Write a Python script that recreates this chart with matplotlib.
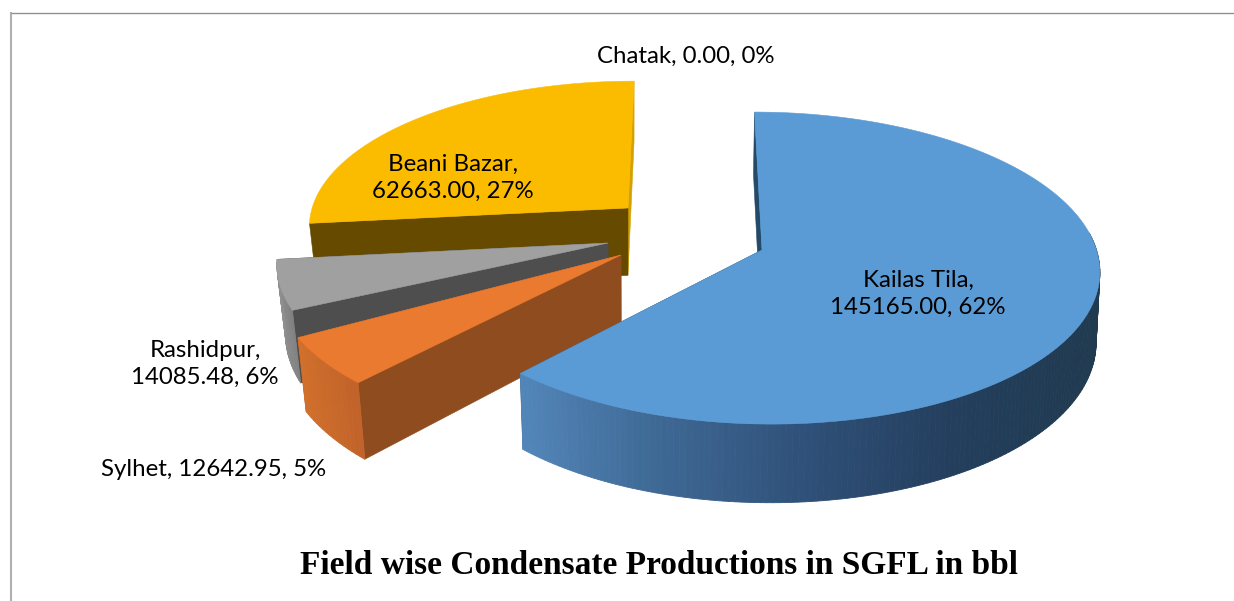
import numpy as np
import matplotlib
matplotlib.use("Agg")
import matplotlib.pyplot as plt
from matplotlib.colors import LinearSegmentedColormap
from matplotlib.patches import Polygon

# ---- data ----
fields = ["Kailas Tila", "Sylhet", "Rashidpur", "Beani Bazar", "Chatak"]
production = [145165.00, 12642.95, 14085.48, 62663.00, 0.00]
title = "Field wise Condensate Productions in SGFL in bbl"

# ---- style / layout ----
W, H = 1234, 601
top_colors = ["#5b9bd5", "#e97a2f", "#a0a0a0", "#fbbc00", "#ffffff"]
start_wall = ["#234a68", "#8e4c1f", "#4e4e4e", "#654a00", "#ffffff"]
end_wall = ["#234a68", "#8e4c1f", "#4e4e4e", "#d4a100", "#ffffff"]
rim_stops = [
    [(0.0, "#5285b8"), (0.22, "#3f6a96"), (0.5, "#2f5078"), (0.75, "#243f5e"), (1.0, "#203a50")],
    [(0.0, "#d2702c"), (1.0, "#c0632a")],
    [(0.0, "#8f8f8f"), (1.0, "#808080")],
    None,
    None,
]
apex_px = [(762, 250), (621, 255), (608, 243), (628, 208), (690, 240)]
radius_scale = [1.0, 1.025, 0.985, 0.975, 1.0]
# small trims (degrees) to the drawn wedge ends, for the reference's foreshortening
trim_start = [0.0, 0.0, 2.5, 0.0, 0.0]
trim_end = [0.0, -1.5, 0.0, 0.0, 0.0]
label_px = [(918, 294), (214, 469), (205, 364), (453, 178), (686, 56)]
label_break = [True, False, True, True, False]
CX, CY = 690.0, 240.0
A, B, K = 332.0, 151.6, 0.115
DEPTH = 69.0
LEAN_X, LEAN_LEFT, LEAN_RIGHT = 625.0, 0.025, 0.008

fig = plt.figure(figsize=(W / 100, H / 100), dpi=100)
ax = fig.add_axes([0, 0, 1, 1])
ax.set_xlim(0, W)
ax.set_ylim(H, 0)
ax.axis("off")


def project(u, v):
    w = 1 + K * v
    return CX + A * u / w, CY - B * v / w, w


def lower(x, y, w):
    lean = np.where(np.asarray(x) < LEAN_X, LEAN_LEFT, LEAN_RIGHT)
    return x + lean * (LEAN_X - x), y + DEPTH / w


def unproject(sx, sy):
    Y = CY - sy
    v = Y / (B - K * Y)
    return (sx - CX) * (1 + K * v) / A, v


total = sum(production)
shares = np.array(production) / total
edges = np.concatenate([[0], np.cumsum(shares) * 2 * np.pi])
xmin_rim, xmax_rim = 525.0, 1090.0

for i in [3, 2, 1, 0]:
    th0 = edges[i] + np.radians(trim_start[i])
    th1 = edges[i + 1] + np.radians(trim_end[i])
    u0, v0 = unproject(*apex_px[i])
    r = radius_scale[i]
    th = np.linspace(th0, th1, max(int((th1 - th0) * 60), 8))
    xt, yt, wt = project(u0 + r * np.sin(th), v0 + r * np.cos(th))
    xb, yb = lower(xt, yt, wt)
    ax0, ay0, aw = project(u0, v0)
    bx0, by0 = lower(ax0, ay0, aw)
    base = i * -10

    # flat walls
    ax.add_patch(Polygon([(ax0, ay0), (xt[-1], yt[-1]), (xb[-1], yb[-1]), (bx0, by0)], closed=True,
                         facecolor=end_wall[i], edgecolor=end_wall[i], lw=0.4, zorder=base + 1))
    ax.add_patch(Polygon([(ax0, ay0), (xt[0], yt[0]), (xb[0], yb[0]), (bx0, by0)], closed=True,
                         facecolor=start_wall[i], edgecolor=start_wall[i], lw=0.4, zorder=base + 2))

    # rim, shaded across its width; the back of the rim is never seen
    if rim_stops[i] is not None:
        cmap = LinearSegmentedColormap.from_list("rim", rim_stops[i])
        lo, hi = (xmin_rim, xmax_rim) if i == 0 else (xt.min(), xt.max())
        for j in range(len(th) - 1):
            if np.cos(0.5 * (th[j] + th[j + 1])) > 0.12:
                continue
            quad = [(xt[j], yt[j]), (xt[j + 1], yt[j + 1]), (xb[j + 1], yb[j + 1]), (xb[j], yb[j])]
            c = cmap(np.clip((0.5 * (xt[j] + xt[j + 1]) - lo) / (hi - lo), 0, 1))
            ax.add_patch(Polygon(quad, closed=True, facecolor=c, edgecolor=c, lw=0.6, zorder=base + 3))

    # top surface
    pts = [(ax0, ay0)] + list(zip(xt, yt))
    ax.add_patch(Polygon(pts, closed=True, facecolor=top_colors[i], edgecolor=top_colors[i],
                         lw=0.4, zorder=base + 4))

# labels
for i, name in enumerate(fields):
    pct = round(shares[i] * 100)
    sep = ",\n" if label_break[i] else ", "
    txt = f"{name}{sep}{production[i]:.2f}, {pct}%"
    ax.text(*label_px[i], txt, ha="center", va="center", fontsize=17.3, family="Lato",
            color="black", linespacing=1.36, zorder=20)

ax.text(659, 566, title, ha="center", va="center", fontsize=24, family="Liberation Serif",
        fontweight="bold", color="black", zorder=20)

# chart frame
ax.plot([11, 11], [H, 12], color="#b0b0b0", lw=1.5, solid_capstyle="butt", zorder=30)
ax.plot([11, W], [12.5, 12.5], color="#909090", lw=1.0, solid_capstyle="butt", zorder=30)

fig.savefig("out.png", dpi=100, facecolor="white")
